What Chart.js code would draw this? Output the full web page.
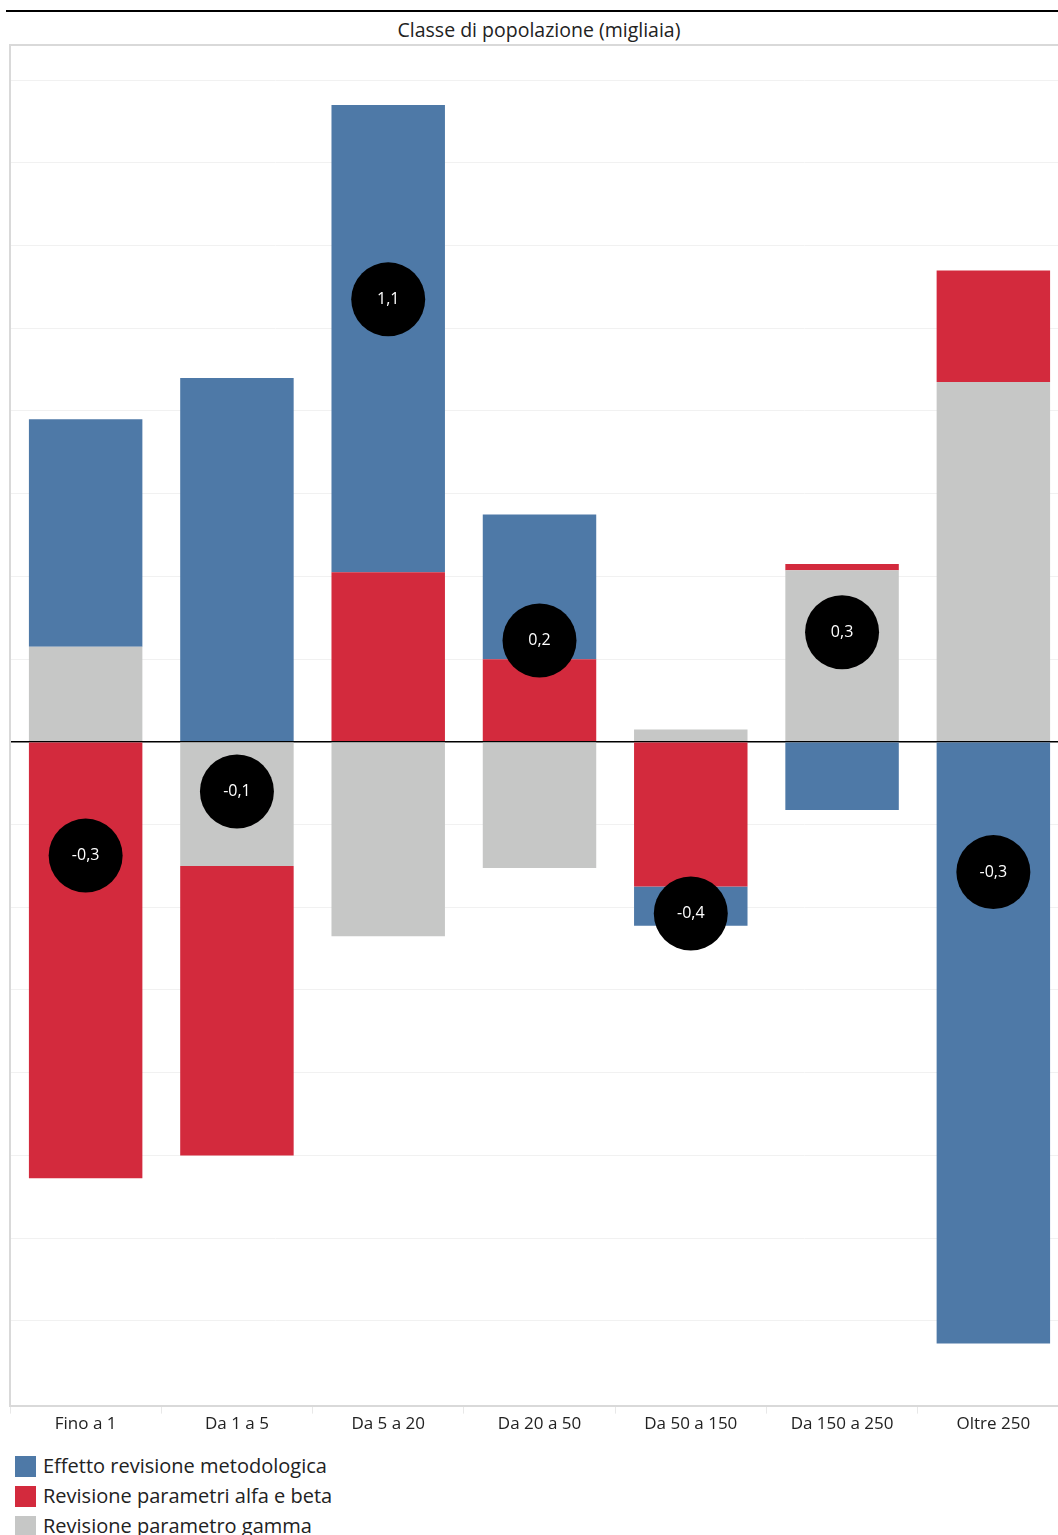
<!DOCTYPE html>
<html lang="it">
<head>
    <meta charset="UTF-8">
    <title>Classe di popolazione (migliaia)</title>
    <script src="https://cdn.jsdelivr.net/npm/chart.js@4.4.1/dist/chart.umd.min.js"></script>
    <style>
        body { margin: 0; width: 1058px; height: 1535px; overflow: hidden; background: #fff; font-family: "Open Sans", sans-serif; position: relative; }
        .rule { position: absolute; left: 6px; right: 0; top: 10px; height: 2px; background: #000; }
        .title { position: absolute; left: 0; width: 1078px; top: 16px; text-align: center; font-size: 19.5px; color: #222; }
        .wrap { position: absolute; left: 0; top: 0; width: 1069px; height: 1434px; }
        .legend { position: absolute; left: 15px; top: 1451px; font-size: 20px; color: #222; }
        .legend div { height: 30px; line-height: 22px; display: flex; align-items: center; }
        .legend span { display: inline-block; width: 21px; height: 21px; margin-right: 7px; }
    </style>
</head>
<body>
    <div class="rule"></div>
    <div class="title">Classe di popolazione (migliaia)</div>
    <div class="wrap"><canvas id="chart"></canvas></div>
    <div class="legend" id="legend"></div>

    <script>
        const categories = ['Fino a 1', 'Da 1 a 5', 'Da 5 a 20', 'Da 20 a 50', 'Da 50 a 150', 'Da 150 a 250', 'Oltre 250']
        const seriesNames = ['Effetto revisione metodologica', 'Revisione parametri alfa e beta', 'Revisione parametro gamma']
        const metodologica = [0.55, 0.88, 1.13, 0.35, -0.095, -0.165, -1.455]
        const alfaBeta = [-1.055, -0.70, 0.41, 0.20, -0.35, 0.015, 0.27]
        const gamma = [0.23, -0.30, -0.47, -0.305, 0.03, 0.415, 0.87]
        const colors = ['#4e79a7', '#d32a3d', '#c6c7c6']

        const yMin = -1.605
        const yMax = 1.685

        // saldo totale per classe, mostrato nei cerchi neri
        const totals = categories.map((c, i) => metodologica[i] + alfaBeta[i] + gamma[i])

        const circles = {
            id: 'circles',
            afterDatasetsDraw(chart) {
                const ctx = chart.ctx
                const x = chart.scales.x
                const y = chart.scales.y
                ctx.save()
                totals.forEach((t, i) => {
                    const px = x.getPixelForValue(i)
                    const py = y.getPixelForValue(t)
                    ctx.beginPath()
                    ctx.arc(px, py, 37, 0, Math.PI * 2)
                    ctx.fillStyle = '#000'
                    ctx.fill()
                    ctx.fillStyle = '#fff'
                    ctx.font = '16px "Open Sans"'
                    ctx.textAlign = 'center'
                    ctx.textBaseline = 'middle'
                    ctx.fillText(t.toFixed(1).replace('.', ','), px, py)
                })
                ctx.restore()
            }
        }

        let chart = document.getElementById('chart').getContext('2d')
        new Chart(chart, {
            type: 'bar',
            data: {
                labels: categories,
                datasets: [
                    { label: seriesNames[0], data: metodologica, backgroundColor: colors[0], order: 2 },
                    { label: seriesNames[1], data: alfaBeta, backgroundColor: colors[1], order: 1 },
                    { label: seriesNames[2], data: gamma, backgroundColor: colors[2], order: 0 }
                ]
            },
            options: {
                responsive: true,
                maintainAspectRatio: false,
                animation: false,
                datasets: { bar: { categoryPercentage: 1, barPercentage: 0.75 } },
                layout: { padding: { left: 10, top: 45, right: 0, bottom: 0 } },
                plugins: { legend: { display: false }, tooltip: { enabled: false } },
                scales: {
                    x: {
                        stacked: true,
                        border: { color: '#d9d9d9', width: 2 },
                        grid: { drawOnChartArea: false, drawTicks: true, tickLength: 8, color: '#e8e8e8' },
                        ticks: { color: '#222', font: { family: 'Open Sans', size: 17 }, padding: 0 }
                    },
                    y: {
                        stacked: true,
                        min: yMin,
                        max: yMax,
                        border: { color: '#d9d9d9', width: 2 },
                        ticks: { display: false, stepSize: 0.2 },
                        grid: {
                            drawTicks: false,
                            color: c => Math.abs(c.tick.value) < 1e-6 ? '#000' : (c.tick.value === yMax ? '#d9d9d9' : '#f1f1f1'),
                            lineWidth: c => Math.abs(c.tick.value) < 1e-6 ? 1.5 : (c.tick.value === yMax ? 2 : 1)
                        }
                    }
                }
            },
            plugins: [circles]
        })

        document.getElementById('legend').innerHTML = seriesNames
            .map((n, i) => `<div><span style="background:${colors[i]}"></span>${n}</div>`).join('')
    </script>
</body>
</html>
